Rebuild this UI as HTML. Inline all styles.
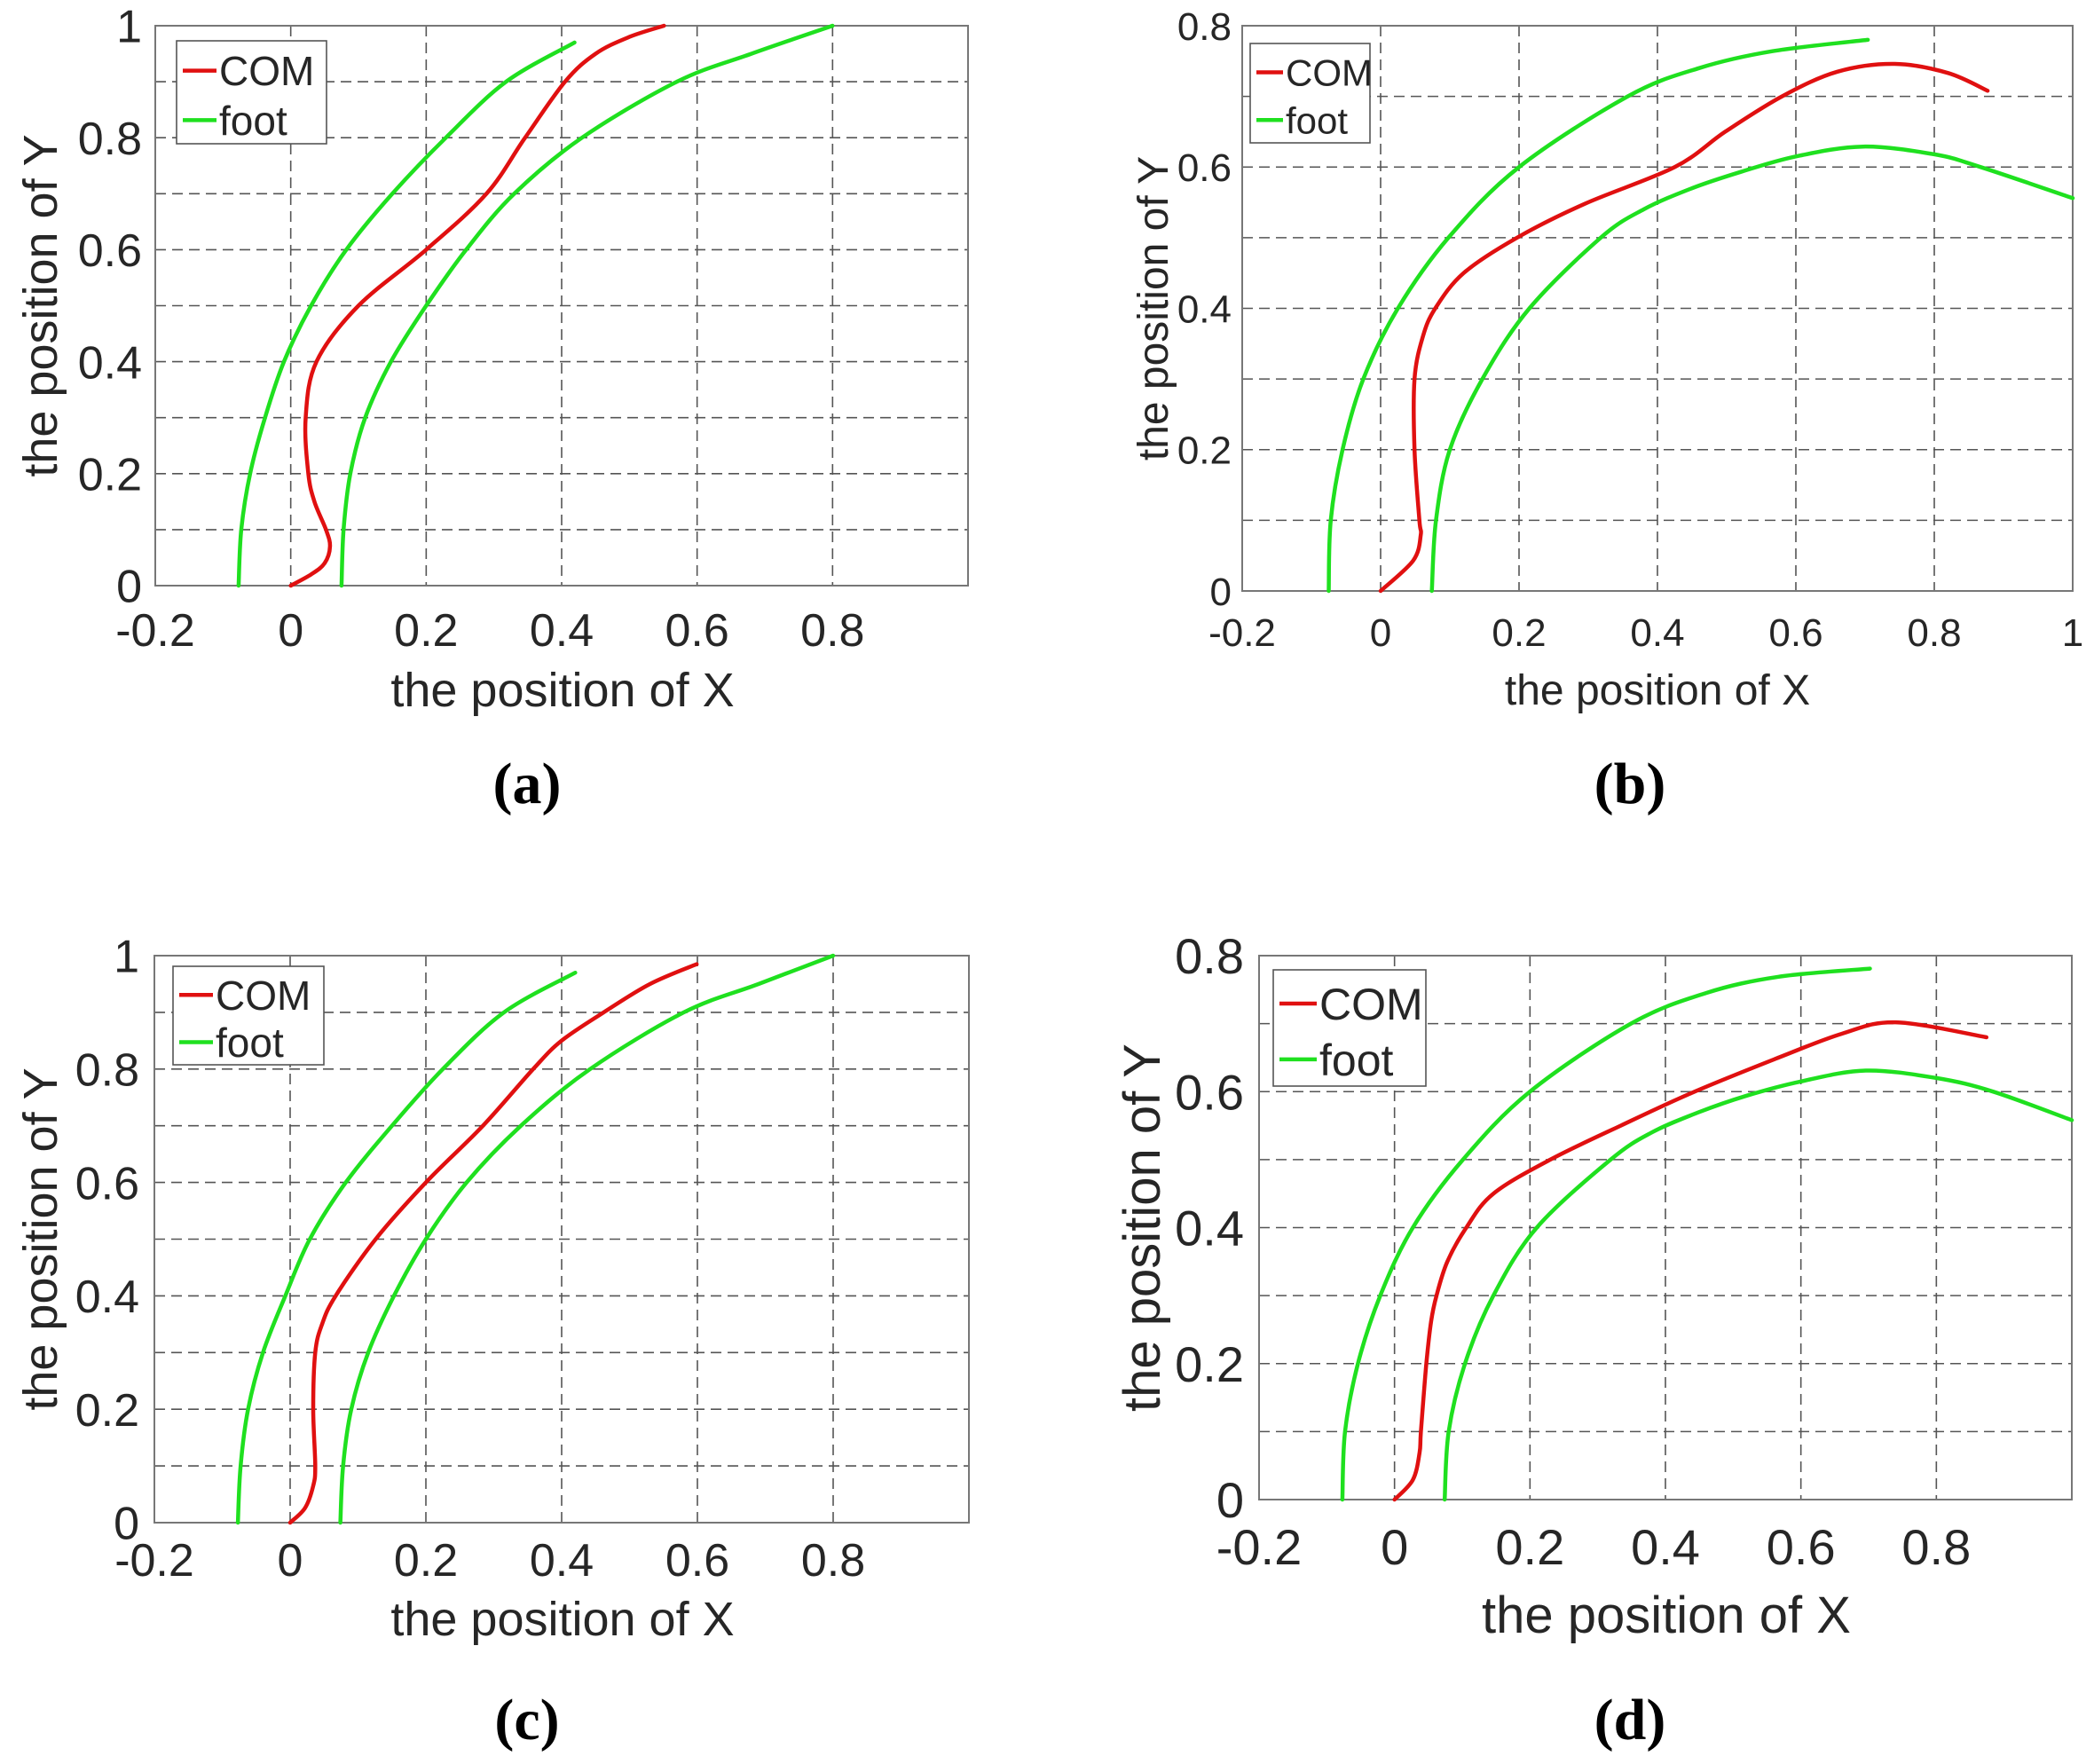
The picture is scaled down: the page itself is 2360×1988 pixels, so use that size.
<!DOCTYPE html>
<html><head><meta charset="utf-8">
<style>
html,body{margin:0;padding:0;background:#fff;}
svg{display:block;}
text{font-family:"Liberation Sans",sans-serif;fill:#262626;}
.lbl{font-family:"Liberation Serif",serif;font-weight:bold;fill:#000;}
</style></head>
<body>
<svg id="fig" width="2360" height="1988" viewBox="0 0 2360 1988" xmlns="http://www.w3.org/2000/svg"></svg>
<script>
// ---- data (x,y pairs in data units) ----
const comA_x=[0,0.03,0.05,0.058,0.052,0.035,0.026,0.022,0.038,0.1,0.2,0.289,0.346,0.405,0.45,0.5,0.551];
const comA_y=[0,0.02,0.04,0.07,0.1,0.15,0.2,0.3,0.4,0.5,0.6,0.7,0.8,0.9,0.95,0.98,1.0];
const footLA_x=[-0.077,-0.073,-0.06,-0.038,-0.01,0.03,0.082,0.15,0.229,0.318,0.419];
const footLA_y=[0,0.1,0.2,0.3,0.4,0.5,0.6,0.7,0.8,0.9,0.97];
const footRA_x=[0.075,0.078,0.088,0.11,0.148,0.2,0.259,0.33,0.43,0.57,0.68,0.8];
const footRA_y=[0,0.1,0.2,0.3,0.4,0.5,0.6,0.7,0.8,0.9,0.95,1.0];

const comB_x=[0,0.047,0.058,0.056,0.049,0.049,0.061,0.079,0.12,0.197,0.295,0.425,0.498,0.58,0.66,0.743,0.82,0.877];
const comB_y=[0,0.043,0.079,0.1,0.2,0.3,0.36,0.4,0.45,0.5,0.548,0.6,0.65,0.7,0.735,0.746,0.733,0.708];
const footLB_x=[-0.075,-0.072,-0.055,-0.025,0.025,0.098,0.2,0.357,0.46,0.566,0.704];
const footLB_y=[0,0.1,0.2,0.3,0.4,0.5,0.6,0.7,0.74,0.764,0.78];
const footRB_x=[0.074,0.08,0.1,0.147,0.215,0.318,0.38,0.45,0.52,0.6,0.697,0.8,0.867,1.0];
const footRB_y=[0,0.1,0.2,0.3,0.4,0.5,0.54,0.57,0.593,0.615,0.629,0.618,0.6,0.556];

const comC_x=[0,0.022,0.034,0.037,0.034,0.037,0.047,0.067,0.126,0.2,0.284,0.358,0.4,0.462,0.53,0.599];
const comC_y=[0,0.026,0.065,0.1,0.2,0.3,0.35,0.4,0.5,0.6,0.7,0.8,0.85,0.9,0.95,0.985];
const footLC_x=[-0.077,-0.073,-0.062,-0.04,-0.007,0.029,0.082,0.15,0.225,0.315,0.42];
const footLC_y=[0,0.1,0.2,0.3,0.4,0.5,0.6,0.7,0.8,0.9,0.97];
const footRC_x=[0.074,0.078,0.09,0.115,0.153,0.2,0.26,0.34,0.442,0.58,0.69,0.8];
const footRC_y=[0,0.1,0.2,0.3,0.4,0.5,0.6,0.7,0.8,0.9,0.95,1.0];

const comD_x=[0,0.027,0.037,0.039,0.047,0.054,0.062,0.078,0.106,0.146,0.23,0.334,0.443,0.567,0.66,0.74,0.874];
const comD_y=[0,0.029,0.069,0.1,0.2,0.262,0.3,0.35,0.4,0.45,0.5,0.55,0.6,0.65,0.685,0.702,0.68];
const footLD_x=[-0.077,-0.073,-0.054,-0.021,0.027,0.101,0.2,0.349,0.46,0.567,0.702];
const footLD_y=[0,0.1,0.2,0.3,0.4,0.5,0.6,0.7,0.745,0.769,0.781];
const footRD_x=[0.074,0.08,0.104,0.146,0.21,0.319,0.38,0.45,0.52,0.6,0.696,0.8,0.884,1.0];
const footRD_y=[0,0.1,0.2,0.3,0.4,0.5,0.54,0.57,0.594,0.615,0.631,0.62,0.6,0.558];

const xTicks=[-0.2,0,0.2,0.4,0.6,0.8,1];
const xTickLabelsA=["-0.2","0","0.2","0.4","0.6","0.8",""];
const xTickLabelsB=["-0.2","0","0.2","0.4","0.6","0.8","1"];
const yTicks1=[0,0.2,0.4,0.6,0.8,1];
const yTickLabels1=["0","0.2","0.4","0.6","0.8","1"];
const yTicks08=[0,0.2,0.4,0.6,0.8];
const yTickLabels08=["0","0.2","0.4","0.6","0.8"];
const legendLabels=["COM","foot"];
const panelLabels=["(a)","(b)","(c)","(d)"];

const NS="http://www.w3.org/2000/svg";
const svg=document.getElementById('fig');
function mk(tag,attrs,parent){const e=document.createElementNS(NS,tag);for(const k in attrs)e.setAttribute(k,attrs[k]);(parent||svg).appendChild(e);return e;}
function smooth(pts){
  let d='M'+pts[0][0].toFixed(1)+','+pts[0][1].toFixed(1);
  for(let i=0;i<pts.length-1;i++){
    const p0=pts[Math.max(0,i-1)],p1=pts[i],p2=pts[i+1],p3=pts[Math.min(pts.length-1,i+2)];
    const c1=[p1[0]+(p2[0]-p0[0])/6,p1[1]+(p2[1]-p0[1])/6];
    const c2=[p2[0]-(p3[0]-p1[0])/6,p2[1]-(p3[1]-p1[1])/6];
    d+=' C'+c1[0].toFixed(1)+','+c1[1].toFixed(1)+' '+c2[0].toFixed(1)+','+c2[1].toFixed(1)+' '+p2[0].toFixed(1)+','+p2[1].toFixed(1);
  }
  return d;
}
function panel(cfg){
  const g=mk('g',{});
  
  
  const X=v=>cfg.l+(v-(-0.2))/1.2*(cfg.r-cfg.l);
  const Y=v=>cfg.b-v/cfg.ymax*(cfg.b-cfg.t);
  const grid=mk('g',{stroke:'#555',"stroke-width":1.6,"stroke-dasharray":"12,7",fill:'none'},g);
  
  
  for(let v=0.1;v<cfg.ymax-0.001;v+=0.1){mk('line',{x1:cfg.l,x2:cfg.r,y1:Y(v),y2:Y(v)},grid);}
  xTicks.forEach(v=>{if(v>-0.2&&v<1)mk('line',{x1:X(v),x2:X(v),y1:cfg.t,y2:cfg.b},grid);});
  const box=mk('rect',{x:cfg.l,y:cfg.t,width:cfg.r-cfg.l,height:cfg.b-cfg.t,fill:'none',stroke:'#777',"stroke-width":2},g);
  
  
  cfg.series.forEach(s=>{
    const pts=s.x.map((xv,i)=>[X(xv),Y(s.y[i])]);
    const p=mk('path',{d:smooth(pts),fill:'none',stroke:s.c,"stroke-width":4.5,"stroke-linecap":"round"},g);
    
    
  });
  const fs=cfg.fs;
  xTicks.forEach((v,i)=>{const lab=cfg.xl[i];if(!lab)return;
    const t=mk('text',{x:X(v),y:cfg.xtb,"font-size":fs,"text-anchor":"middle"},g);t.textContent=lab;
    
    });
  cfg.yt.forEach((v,i)=>{
    const t=mk('text',{x:cfg.ytx,y:Y(v)+fs*0.36,"font-size":fs,"text-anchor":"end"},g);t.textContent=cfg.yl[i];
    
    });
  const xt=mk('text',{x:cfg.xtitx,y:cfg.xtitb,"font-size":cfg.tfs,"text-anchor":"middle"},g);xt.textContent='the position of X';
  
  
  const yc=(cfg.t+cfg.b)/2;
  const yt=mk('text',{x:0,y:0,"font-size":cfg.tfs,"text-anchor":"middle",transform:'translate('+cfg.ytitx+','+yc+') rotate(-90)'},g);yt.textContent='the position of Y';
  
  
  const L=cfg.leg;
  const lg=mk('g',{},g);
  
  
  mk('rect',{x:L[0],y:L[1],width:L[2]-L[0],height:L[3]-L[1],fill:'#fff',stroke:'#555',"stroke-width":1.6},lg);
  const h=(L[3]-L[1]);
  legendLabels.forEach((lab,i)=>{
    const cy=L[1]+h*(0.29+0.48*i);
    const e=mk('g',{},lg);
    
    
    mk('line',{x1:L[0]+7,x2:L[0]+7+cfg.legLine,y1:cy,y2:cy,stroke:i?'#1fe01f':'#e01010',"stroke-width":4.5},e);
    const t=mk('text',{x:L[0]+10+cfg.legLine,y:cy+cfg.lfs*0.36,"font-size":cfg.lfs},e);t.textContent=lab;
  });
  const pl=mk('text',{x:cfg.plx,y:cfg.plb,"font-size":66,"text-anchor":"middle",class:'lbl'},g);pl.textContent=cfg.pl;
  
  
}
const G='#1fe01f',R='#e01010';
panel({id:'a',l:175,r:1091,t:29,b:660,ymax:1,fs:52,tfs:54,xl:xTickLabelsA,yt:yTicks1,yl:yTickLabels1,xtb:728,ytx:160,xtitx:634,xtitb:796,ytitx:64,
  leg:[199,46,368,162],legLine:38,lfs:46,pl:panelLabels[0],plx:594,plb:905,
  series:[{x:footLA_x,y:footLA_y,c:G,name:'foot-left-a'},{x:footRA_x,y:footRA_y,c:G,name:'foot-right-a'},{x:comA_x,y:comA_y,c:R,name:'com-a'}]});
panel({id:'b',l:1400,r:2336,t:29,b:666,ymax:0.8,fs:44,tfs:48,xl:xTickLabelsB,yt:yTicks08,yl:yTickLabels08,xtb:728,ytx:1388,xtitx:1868,xtitb:794,ytitx:1316,
  leg:[1409,49,1544,161],legLine:30,lfs:42,pl:panelLabels[1],plx:1837,plb:905,
  series:[{x:footLB_x,y:footLB_y,c:G,name:'foot-left-b'},{x:footRB_x,y:footRB_y,c:G,name:'foot-right-b'},{x:comB_x,y:comB_y,c:R,name:'com-b'}]});
panel({id:'c',l:174,r:1092,t:1077,b:1716,ymax:1,fs:52,tfs:54,xl:xTickLabelsA,yt:yTicks1,yl:yTickLabels1,xtb:1776,ytx:157,xtitx:634,xtitb:1843,ytitx:64,
  leg:[195,1089,365,1200],legLine:38,lfs:46,pl:panelLabels[2],plx:594,plb:1960,
  series:[{x:footLC_x,y:footLC_y,c:G,name:'foot-left-c'},{x:footRC_x,y:footRC_y,c:G,name:'foot-right-c'},{x:comC_x,y:comC_y,c:R,name:'com-c'}]});
panel({id:'d',l:1419,r:2335,t:1077,b:1690,ymax:0.8,fs:56,tfs:58,xl:xTickLabelsA,yt:yTicks08,yl:yTickLabels08,xtb:1763,ytx:1402,xtitx:1878,xtitb:1840,ytitx:1307,
  leg:[1435,1093,1607,1224],legLine:42,lfs:50,pl:panelLabels[3],plx:1837,plb:1960,
  series:[{x:footLD_x,y:footLD_y,c:G,name:'foot-left-d'},{x:footRD_x,y:footRD_y,c:G,name:'foot-right-d'},{x:comD_x,y:comD_y,c:R,name:'com-d'}]});
</script>
</body></html>
